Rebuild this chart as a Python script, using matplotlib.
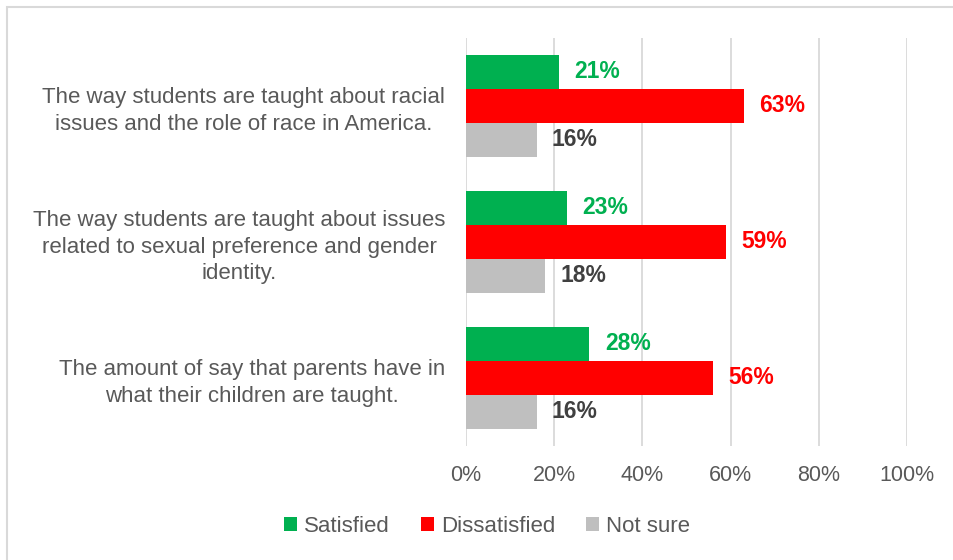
import matplotlib
matplotlib.use("Agg")
import matplotlib.pyplot as plt
import numpy as np
from matplotlib.patches import Rectangle

categories = [
    "The way students are taught about racial\nissues and the role of race in America.",
    "The way students are taught about issues\nrelated to sexual preference and gender\nidentity.",
    "The amount of say that parents have in\nwhat their children are taught.",
]
series_names = ["Satisfied", "Dissatisfied", "Not sure"]
satisfied = [21, 23, 28]
dissatisfied = [63, 59, 56]
not_sure = [16, 18, 16]
xticks = [0, 20, 40, 60, 80, 100]
xtick_labels = ["0%", "20%", "40%", "60%", "80%", "100%"]

colors = ["#00B050", "#FF0000", "#BFBFBF"]
label_colors = ["#00B050", "#FF0000", "#404040"]

plt.rcParams['font.family'] = ['Liberation Sans', 'DejaVu Sans']

fig = plt.figure(figsize=(9.54, 5.6), dpi=100)
ax = fig.add_axes([466/954, 1-446/560, 441/954, 408/560])

fig.patches.append(Rectangle((7/954, -0.1), 1.2, 1-7/560+0.1, transform=fig.transFigure,
                             fill=False, edgecolor="#D9D9D9", linewidth=1.5))

y = np.arange(len(categories))
h = 0.25
series = [satisfied, dissatisfied, not_sure]
for i, (vals, name) in enumerate(zip(series, series_names)):
    pos = y + (i - 1) * h
    ax.barh(pos, vals, height=h, color=colors[i], label=name, zorder=3)
    for p, v in zip(pos, vals):
        ax.annotate(f"{v}%", (v, p), xytext=(11, 0), textcoords="offset points",
                    va="center", ha="left", fontsize=16.5, fontweight="bold",
                    color=label_colors[i])

ax.set_xlim(0, 100)
ax.set_ylim(len(categories) - 0.5, -0.5)
ax.set_xticks(xticks)
ax.set_xticklabels(xtick_labels, fontsize=15.5, color="#595959")
ax.set_yticks(y)
ax.set_yticklabels(categories, fontsize=16, color="#595959", multialignment="center",
                   linespacing=1.35)
ax.tick_params(axis="x", length=0, pad=14)
ax.tick_params(axis="y", length=0, pad=15)
ax.grid(axis="x", color="#D9D9D9", linewidth=1.3, zorder=0)
for s in ax.spines.values():
    s.set_visible(False)

leg = fig.legend(loc="center", bbox_to_anchor=(487/954, 1-526/560), ncol=3, frameon=False,
                 fontsize=16, handlelength=0.6, handleheight=0.6, handletextpad=0.3,
                 columnspacing=1.4)
for t in leg.get_texts():
    t.set_color("#595959")

fig.savefig("out.png", dpi=100, facecolor="white")
